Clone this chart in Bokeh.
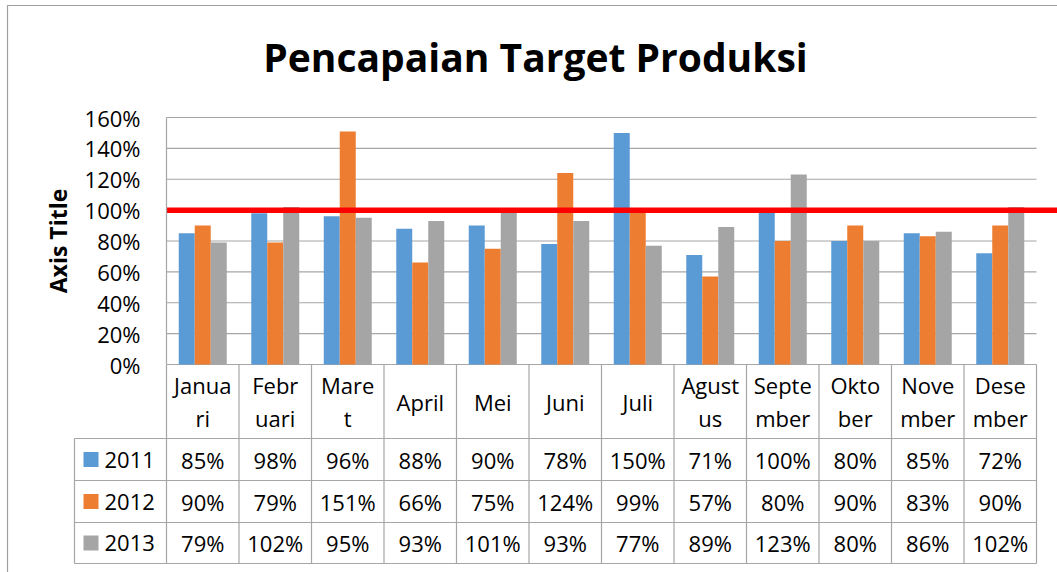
from bokeh.plotting import figure
from bokeh.models import Range1d, LinearAxis, FixedTicker, NumeralTickFormatter
from bokeh.embed import file_html
from bokeh.resources import INLINE
from bokeh.core.properties import value

# ---------------- data ----------------
chart_title = "Pencapaian Target Produksi"
y_axis_title = "Axis Title"
months = ["Januari", "Februari", "Maret", "April", "Mei", "Juni", "Juli",
          "Agustus", "September", "Oktober", "November", "Desember"]
month_labels = ["Janua\nri", "Febr\nuari", "Mare\nt", "April", "Mei", "Juni", "Juli",
                "Agust\nus", "Septe\nmber", "Okto\nber", "Nove\nmber", "Dese\nmber"]
series_names = ["2011", "2012", "2013"]
s2011 = [85, 98, 96, 88, 90, 78, 150, 71, 100, 80, 85, 72]
s2012 = [90, 79, 151, 66, 75, 124, 99, 57, 80, 90, 83, 90]
s2013 = [79, 102, 95, 93, 101, 93, 77, 89, 123, 80, 86, 102]
target = 100
y_ticks = [0, 20, 40, 60, 80, 100, 120, 140, 160]
colors = ["#5B9BD5", "#ED7D31", "#A5A5A5"]

# ---------------- layout ----------------
W, H = 1057, 572
PLOT_L, PLOT_R, PLOT_T, PLOT_B = 166, 1036, 117, 364
N = len(months)
CAT_W = (PLOT_R - PLOT_L) / N
UNIT = (PLOT_B - PLOT_T) / (y_ticks[-1] / 100)
TABLE_L = 74
ROW_LINES = [438, 480, 522, 563]
BAR_PX = 16
FONT = "Open Sans"
GRID_C = "#A6A6A6"


def fx(px):
    return (px - PLOT_L) / CAT_W


def fy(py):
    return (PLOT_B - py) / UNIT


p = figure(width=W, height=H, x_range=Range1d(fx(0), fx(W)), y_range=Range1d(fy(H), fy(0)),
           output_backend="svg", toolbar_location=None, min_border=0,
           x_axis_location=None, y_axis_location=None, outline_line_color=None,
           background_fill_color="white", border_fill_color="white")
for g in p.grid:
    g.visible = False

# outer chart border
p.line(x=[fx(7), fx(7), fx(W + 10)], y=[fy(H + 10), fy(5), fy(5)], line_color="#A0A0A0", line_width=1.2)

# gridlines
gt = [t / 100 for t in y_ticks[1:]]
p.segment(x0=[0] * len(gt), x1=[N] * len(gt), y0=gt, y1=gt, line_color=GRID_C, line_width=1.2)

# table lines
hx0 = [0] + [fx(TABLE_L)] * len(ROW_LINES)
hy = [0] + [fy(r) for r in ROW_LINES]
p.segment(x0=hx0, x1=[N] * len(hx0), y0=hy, y1=hy, line_color=GRID_C, line_width=1.2)
vx = list(range(N + 1))
p.segment(x0=vx, x1=vx, y0=[0] * len(vx), y1=[fy(ROW_LINES[-1])] * len(vx), line_color=GRID_C, line_width=1.2)
p.segment(x0=[fx(TABLE_L)], x1=[fx(TABLE_L)], y0=[fy(ROW_LINES[0])], y1=[fy(ROW_LINES[-1])],
          line_color=GRID_C, line_width=1.2)

# bars
bw = BAR_PX / CAT_W
series = [s2011, s2012, s2013]
for k, vals in enumerate(series):
    xs = [i + 0.5 + (k - 1) * bw for i in range(N)]
    p.vbar(x=xs, top=[v / 100 for v in vals], bottom=0, width=bw, fill_color=colors[k],
           line_color=None)

# target line
p.segment(x0=[0], x1=[fx(W) + 1], y0=[target / 100], y1=[target / 100], line_color="#FF0000", line_width=5.5)

# header labels
p.text(x=[i + 0.5 for i in range(N)], y=[fy((PLOT_B + ROW_LINES[0]) / 2)] * N, text=month_labels,
       text_font=value(FONT), text_font_size="22px", text_align="center", text_baseline="middle",
       text_line_height=1.07, text_color="black")

# table values and legend
row_c = [(ROW_LINES[j] + ROW_LINES[j + 1]) / 2 for j in range(3)]
for k, vals in enumerate(series):
    p.text(x=[i + 0.5 for i in range(N)], y=[fy(row_c[k])] * N, text=[f"{v}%" for v in vals],
           text_font=value(FONT), text_font_size="22px", text_align="center", text_baseline="middle",
           text_color="black")
p.scatter(x=[fx(90.5)] * 3, y=[fy(c) for c in row_c], marker="square", size=15, fill_color=colors,
          line_color=None)
p.text(x=[fx(104)] * 3, y=[fy(c) for c in row_c], text=series_names, text_font=value(FONT),
       text_font_size="22px", text_align="left", text_baseline="middle", text_color="black")

# title
p.text(x=[fx(535)], y=[fy(56)], text=[chart_title], text_font=value(FONT), text_font_size="39px",
       text_font_style="bold", text_align="center", text_baseline="middle", text_color="black")

# y axis
yaxis = LinearAxis(fixed_location=0, bounds=(0, y_ticks[-1] / 100),
                   ticker=FixedTicker(ticks=[t / 100 for t in y_ticks]),
                   formatter=NumeralTickFormatter(format="0%"),
                   axis_label=y_axis_title, axis_line_color=GRID_C, axis_line_width=1.2,
                   major_tick_out=0, major_tick_in=0, minor_tick_out=0, minor_tick_in=0,
                   major_label_standoff=26, major_label_text_font=FONT,
                   major_label_text_font_size="22px", major_label_text_color="black",
                   axis_label_text_font=FONT, axis_label_text_font_size="23px",
                   axis_label_text_font_style="bold", axis_label_text_color="black",
                   axis_label_standoff=8)
p.add_layout(yaxis, "left")

open("out.html", "w").write(file_html(p, INLINE))
